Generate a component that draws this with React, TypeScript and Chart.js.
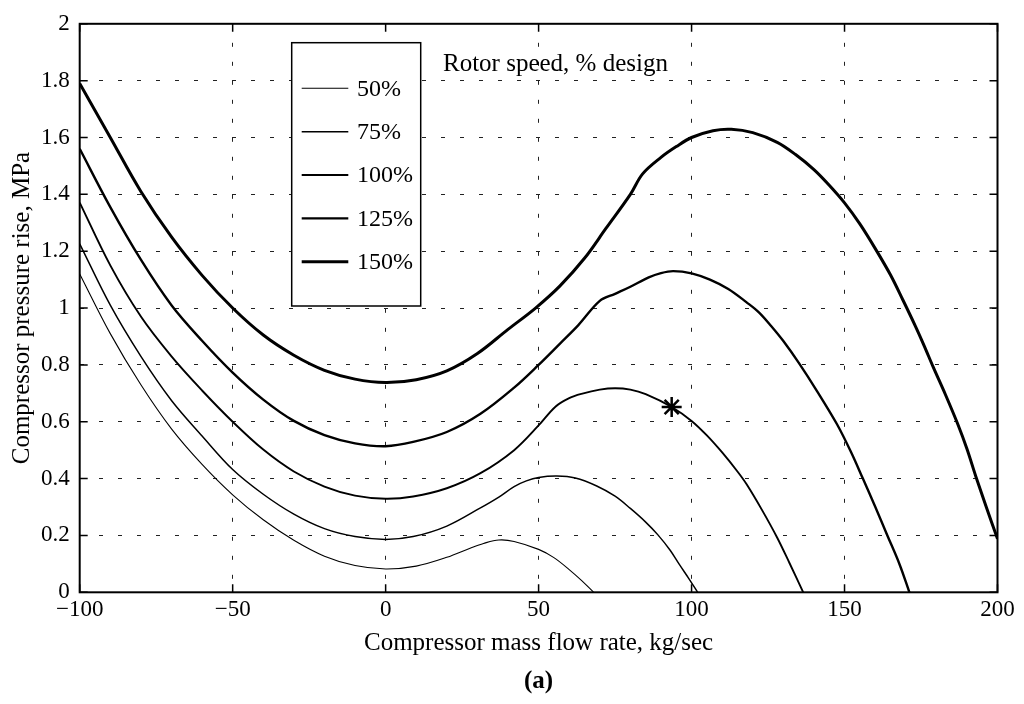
import React, { useEffect, useRef } from "react";
import { Chart, registerables } from "chart.js";

Chart.register(...registerables);

// ---------- data ----------
const speedLabels = ["50%", "75%", "100%", "125%", "150%"];
const legendTitle = "Rotor speed, % design";
const xAxisTitle = "Compressor mass flow rate, kg/sec";
const yAxisTitle = "Compressor pressure rise, MPa";
const panelLabel = "(a)";

const flow50 = [-100, -90, -80, -70, -60, -50, -40, -30, -20, -10, 0, 10, 20, 28, 32, 37, 42, 50, 55, 60, 64, 68];
const rise50 = [1.12, 0.91, 0.73, 0.575, 0.45, 0.343, 0.255, 0.183, 0.127, 0.094, 0.082, 0.092, 0.123, 0.157, 0.172, 0.184, 0.179, 0.151, 0.122, 0.08, 0.042, 0];

const flow75 = [-100, -90, -80, -70, -60, -50, -40, -30, -20, -10, 0, 9, 20, 31, 37, 42, 46, 50, 56, 62, 69, 75, 80, 85, 89, 93, 96, 99, 102];
const rise75 = [1.226, 1.01, 0.83, 0.675, 0.55, 0.432, 0.345, 0.275, 0.224, 0.196, 0.186, 0.196, 0.233, 0.297, 0.335, 0.372, 0.392, 0.404, 0.409, 0.402, 0.374, 0.338, 0.295, 0.247, 0.202, 0.148, 0.098, 0.05, 0];

const flow100 = [-100, -90, -80, -70, -60, -50, -40, -30, -20, -10, 0, 9, 20, 31, 42, 50, 55.5, 60, 64, 70, 75, 80, 85, 93.5, 100, 105, 110, 115, 118, 123, 128, 132, 136.5];
const rise100 = [1.371, 1.15, 0.97, 0.83, 0.71, 0.6, 0.502, 0.425, 0.372, 0.34, 0.329, 0.337, 0.366, 0.419, 0.5, 0.587, 0.653, 0.683, 0.698, 0.713, 0.718, 0.713, 0.697, 0.652, 0.603, 0.552, 0.492, 0.425, 0.38, 0.29, 0.192, 0.103, 0];

const flow125 = [-100, -90, -80, -70, -60, -50, -40, -30, -20, -10, 0, 9, 20, 31, 42, 50, 57, 63, 70, 75, 80, 86, 90, 94, 100, 106, 112, 118, 122, 126, 130, 135, 141, 147.5, 152, 156, 160, 164, 168, 171.2];
const rise125 = [1.56, 1.355, 1.17, 1.01, 0.885, 0.773, 0.678, 0.603, 0.553, 0.524, 0.514, 0.529, 0.564, 0.628, 0.72, 0.8, 0.875, 0.94, 1.025, 1.05, 1.075, 1.108, 1.123, 1.13, 1.122, 1.1, 1.067, 1.02, 0.985, 0.937, 0.884, 0.808, 0.708, 0.592, 0.496, 0.4, 0.302, 0.2, 0.098, 0];

const flow150 = [-100, -90, -80, -70, -60, -50, -40, -30, -20, -10, 0, 10, 20, 30, 40, 49, 57, 65, 72, 80, 84, 90, 95, 100, 107, 113, 120, 128, 134, 140, 145, 150, 155, 160, 165, 169, 173, 176, 179, 183, 187, 190, 193, 196.5, 200];
const rise150 = [1.79, 1.6, 1.41, 1.25, 1.115, 1.0, 0.905, 0.834, 0.781, 0.75, 0.738, 0.748, 0.779, 0.84, 0.925, 1.0, 1.078, 1.175, 1.28, 1.4, 1.472, 1.53, 1.568, 1.6, 1.624, 1.629, 1.617, 1.583, 1.54, 1.487, 1.432, 1.37, 1.296, 1.21, 1.117, 1.03, 0.94, 0.868, 0.792, 0.695, 0.592, 0.505, 0.405, 0.295, 0.188];

const designFlow = [93.5];
const designRise = [0.652];

const xMin = -100;
const xMax = 200;
const xStep = 50;
const yMin = 0;
const yMax = 2;
const yStep = 0.2;

// ---------- styling ----------
const FONT = "'Liberation Serif', 'Times New Roman', serif";
const lineWidths = [1.1, 1.5, 1.9, 2.4, 3.0];

const flows = [flow50, flow75, flow100, flow125, flow150];
const rises = [rise50, rise75, rise100, rise125, rise150];

const toPoints = (xs: number[], ys: number[]) => xs.map((x, i) => ({ x, y: ys[i] }));

const fmtX = (v: number) => (v < 0 ? "\u2212" + Math.abs(v) : String(v));
const fmtY = (v: number) => String(Number(v.toFixed(1)));

const framePlugin = {
  id: "frameAndLegend",
  afterDatasetsDraw(chart: any) {
    const { ctx, chartArea } = chart;
    const { left, right, top, bottom } = chartArea;
    const xs = chart.scales.x;
    const ys = chart.scales.y;
    ctx.save();
    ctx.strokeStyle = "#000";
    // inner tick marks
    ctx.lineWidth = 1.5;
    const tl = 8;
    xs.ticks.forEach((t: any) => {
      const px = xs.getPixelForValue(t.value);
      ctx.beginPath();
      ctx.moveTo(px, bottom);
      ctx.lineTo(px, bottom - tl);
      ctx.moveTo(px, top);
      ctx.lineTo(px, top + tl);
      ctx.stroke();
    });
    ys.ticks.forEach((t: any) => {
      const py = ys.getPixelForValue(t.value);
      ctx.beginPath();
      ctx.moveTo(left, py);
      ctx.lineTo(left + tl, py);
      ctx.moveTo(right, py);
      ctx.lineTo(right - tl, py);
      ctx.stroke();
    });
    // frame
    ctx.lineWidth = 2;
    ctx.strokeRect(left, top, right - left, bottom - top);

    // legend box
    const bx = 291.7, by = 42.7, bw = 129, bh = 263.3;
    ctx.fillStyle = "#fff";
    ctx.fillRect(bx, by, bw, bh);
    ctx.lineWidth = 1.5;
    ctx.strokeRect(bx, by, bw, bh);
    ctx.font = `24px ${FONT}`;
    ctx.textBaseline = "middle";
    ctx.textAlign = "left";
    ctx.fillStyle = "#000";
    speedLabels.forEach((lab, i) => {
      const y = 88.3 + i * 43.35;
      ctx.lineWidth = lineWidths[i];
      ctx.beginPath();
      ctx.moveTo(301.7, y);
      ctx.lineTo(348.3, y);
      ctx.stroke();
      ctx.fillText(lab, 357, y + 1);
    });
    ctx.font = `25px ${FONT}`;
    ctx.fillText(legendTitle, 443, 64);
    ctx.restore();
  },
};

export default function App() {
  const canvasRef = useRef<HTMLCanvasElement | null>(null);

  useEffect(() => {
    const canvas = canvasRef.current;
    if (!canvas) return;
    const datasets: any[] = speedLabels.map((lab, i) => ({
      label: lab,
      data: toPoints(flows[i], rises[i]),
      borderColor: "#000",
      borderWidth: lineWidths[i],
      pointRadius: 0,
      fill: false,
      tension: 0.35,
    }));
    datasets.push({
      label: "design",
      data: toPoints(designFlow, designRise),
      showLine: false,
      pointStyle: "star",
      pointRadius: 10,
      pointBorderWidth: 2.5,
      borderColor: "#000",
      backgroundColor: "#000",
    });

    const chart = new Chart(canvas, {
      type: "line",
      data: { datasets },
      plugins: [framePlugin],
      options: {
        responsive: false,
        animation: false,
        devicePixelRatio: 1,
        layout: { padding: { left: 0, top: 19.5, right: 26.5, bottom: 7.8 } },
        plugins: {
          legend: { display: false },
          tooltip: { enabled: false },
          title: {
            display: true,
            text: panelLabel,
            position: "bottom",
            fullSize: false,
            color: "#000",
            font: { family: FONT, size: 25, weight: "bold" },
            padding: 0,
          },
        },
        scales: {
          x: {
            type: "linear",
            min: xMin,
            max: xMax,
            afterFit: (s: any) => {
              s.height = 73.9;
            },
            ticks: {
              stepSize: xStep,
              autoSkip: false,
              maxRotation: 0,
              padding: 4,
              color: "#000",
              font: { family: FONT, size: 23 },
              callback: (v: any) => fmtX(Number(v)),
            },
            grid: { color: "#222", lineWidth: 1, drawTicks: false },
            border: { display: false, dash: [4, 15] },
            title: {
              display: true,
              text: xAxisTitle,
              color: "#000",
              font: { family: FONT, size: 25 },
              padding: { top: 0, bottom: 7.4 },
            },
          },
          y: {
            type: "linear",
            min: yMin,
            max: yMax,
            afterFit: (s: any) => {
              s.width = 79.7;
            },
            ticks: {
              stepSize: yStep,
              padding: 10,
              color: "#000",
              font: { family: FONT, size: 23 },
              callback: (v: any) => fmtY(Number(v)),
            },
            grid: { color: "#222", lineWidth: 1, drawTicks: false },
            border: { display: false, dash: [4, 15] },
            title: {
              display: true,
              text: yAxisTitle,
              color: "#000",
              font: { family: FONT, size: 25 },
              padding: { top: 7, bottom: 0 },
            },
          },
        },
      },
    } as any);
    return () => chart.destroy();
  }, []);

  return (
    <div style={{ position: "fixed", left: 0, top: 0, width: 1024, height: 704, background: "#fff" }}>
      <canvas ref={canvasRef} width={1024} height={704} style={{ display: "block" }} />
    </div>
  );
}
